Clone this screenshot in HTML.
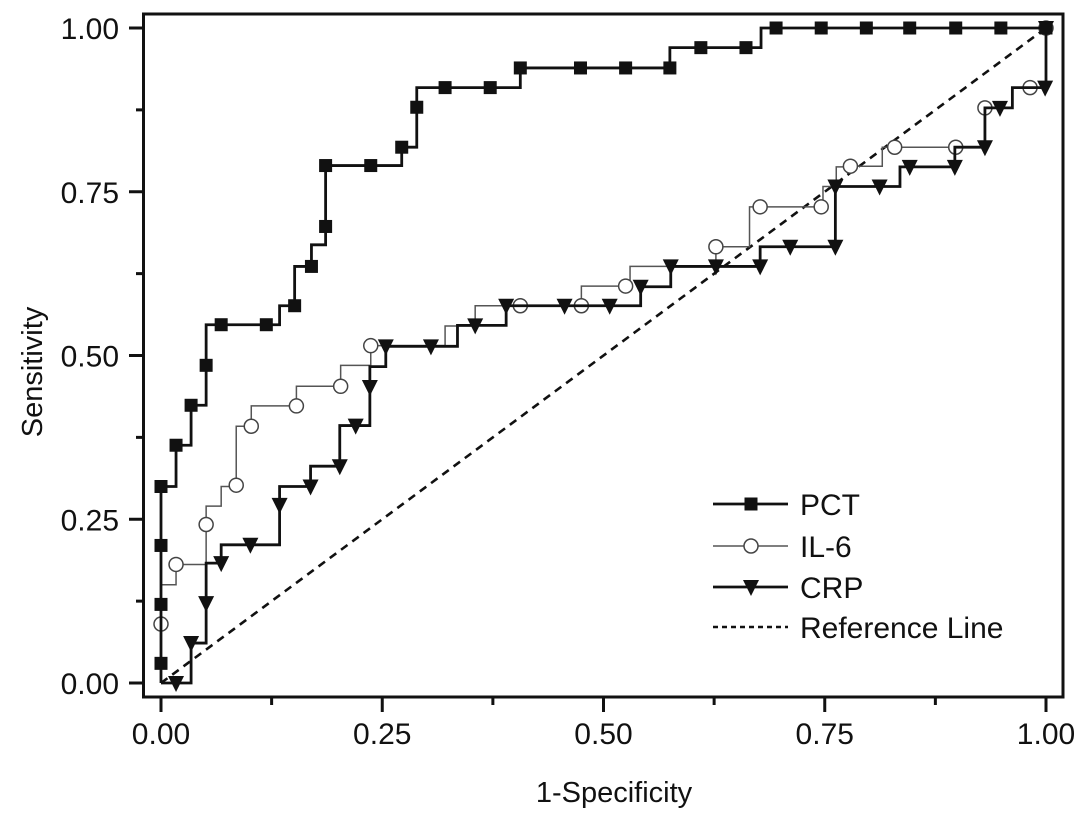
<!DOCTYPE html>
<html><head><meta charset="utf-8"><style>
html,body{margin:0;padding:0;background:#fff}
svg{display:block}
text{font-family:"Liberation Sans",Arial,sans-serif;fill:#111}
</style></head><body>
<svg id="chart" width="1087" height="820" viewBox="0 0 1087 820" xmlns="http://www.w3.org/2000/svg">
<g id="axes"></g>
<g id="series"></g>
<g id="legend"></g>
</svg>
<script>
const xTicks = [0, 0.25, 0.5, 0.75, 1];
const xTickLabels = ["0.00", "0.25", "0.50", "0.75", "1.00"];
const yTicks = [0, 0.25, 0.5, 0.75, 1];
const yTickLabels = ["0.00", "0.25", "0.50", "0.75", "1.00"];

const pctX = [0,0,0,0,0,0.017,0.034,0.051,0.051,0.068,0.119,0.134,0.151,0.151,0.17,0.17,0.186,0.186,0.237,0.272,0.289,0.289,0.321,0.372,0.406,0.474,0.525,0.575,0.575,0.61,0.661,0.678,0.695,0.746,0.797,0.846,0.898,0.949,1.0];
const pctY = [0,0.03,0.12,0.21,0.30,0.363,0.424,0.485,0.547,0.547,0.547,0.576,0.576,0.636,0.636,0.669,0.697,0.79,0.79,0.818,0.879,0.909,0.909,0.909,0.939,0.939,0.939,0.939,0.97,0.97,0.97,1,1,1,1,1,1,1,1];
const pctM = [0,1,1,1,1,1,1,1,0,1,1,0,1,0,1,0,1,1,1,1,1,0,1,1,1,1,1,1,0,1,1,0,1,1,1,1,1,1,1];

const il6X = [0,0,0,0.017,0.051,0.051,0.068,0.085,0.085,0.102,0.102,0.153,0.153,0.203,0.203,0.237,0.321,0.355,0.406,0.475,0.475,0.525,0.53,0.627,0.665,0.677,0.746,0.748,0.763,0.779,0.815,0.829,0.898,0.931,0.962,0.982,1.0];
const il6Y = [0,0.09,0.15,0.181,0.242,0.27,0.30,0.302,0.392,0.392,0.423,0.423,0.453,0.453,0.485,0.515,0.545,0.576,0.576,0.576,0.606,0.606,0.636,0.666,0.727,0.727,0.727,0.758,0.788,0.789,0.818,0.818,0.818,0.878,0.909,0.909,1];
const il6M = [0,1,0,1,1,0,0,1,0,1,0,1,0,1,0,1,0,0,1,1,0,1,0,1,0,1,1,0,0,1,0,1,1,1,0,1,1];

const crpX = [0,0.017,0.034,0.051,0.051,0.068,0.068,0.101,0.134,0.134,0.169,0.169,0.202,0.202,0.22,0.236,0.236,0.254,0.305,0.335,0.355,0.39,0.456,0.507,0.542,0.576,0.627,0.677,0.677,0.711,0.762,0.762,0.812,0.835,0.846,0.897,0.897,0.931,0.931,0.948,0.962,0.999,1.0];
const crpY = [0,0,0.061,0.122,0.183,0.183,0.211,0.211,0.272,0.30,0.30,0.331,0.331,0.393,0.393,0.452,0.483,0.514,0.514,0.546,0.546,0.576,0.576,0.576,0.605,0.636,0.636,0.636,0.666,0.666,0.666,0.758,0.758,0.788,0.788,0.788,0.818,0.818,0.878,0.878,0.909,0.909,1];
const crpM = [0,1,1,1,0,1,0,1,1,0,1,0,1,0,1,1,0,1,1,0,1,1,1,1,1,1,1,1,0,1,1,1,1,0,1,1,0,1,0,1,0,1,1];

const refX = [0, 1];
const refY = [0, 1];

const NS = "http://www.w3.org/2000/svg";
const X0 = 161, XW = 885, Y0 = 683, YH = 655;
function sx(v){ return X0 + v * XW; }
function sy(v){ return Y0 - v * YH; }
function mk(tag, attrs, parent){
  const e = document.createElementNS(NS, tag);
  for (const k in attrs) e.setAttribute(k, attrs[k]);
  parent.appendChild(e);
  return e;
}
const axes = document.getElementById('axes');
const series = document.getElementById('series');
const legend = document.getElementById('legend');

const frame = mk('rect', {x:143.5, y:14, width:919.5, height:683, fill:'none', stroke:'#111', 'stroke-width':3}, axes);



xTicks.forEach((v, i) => {
  const t = mk('line', {x1:sx(v), x2:sx(v), y1:697, y2:712, stroke:'#111', 'stroke-width':3}, axes);
  
  
  const lb = mk('text', {x:sx(v), y:744, 'font-size':30, 'text-anchor':'middle'}, axes);
  lb.textContent = xTickLabels[i];
  
  
  if (i < xTicks.length - 1) {
    const m = mk('line', {x1:sx(v + 0.125), x2:sx(v + 0.125), y1:697, y2:705, stroke:'#111', 'stroke-width':3}, axes);
    
    
  }
});
yTicks.forEach((v, i) => {
  const t = mk('line', {x1:129, x2:143.5, y1:sy(v), y2:sy(v), stroke:'#111', 'stroke-width':3}, axes);
  
  
  const lb = mk('text', {x:119, y:sy(v) + 11, 'font-size':30, 'text-anchor':'end'}, axes);
  lb.textContent = yTickLabels[i];
  
  
  if (i < yTicks.length - 1) {
    const m = mk('line', {x1:136, x2:143.5, y1:sy(v + 0.125), y2:sy(v + 0.125), stroke:'#111', 'stroke-width':3}, axes);
    
    
  }
});
const xt = mk('text', {x:614, y:802, 'font-size':29, 'text-anchor':'middle'}, axes);
xt.textContent = '1-Specificity';


const yt = mk('text', {x:0, y:0, 'font-size':29, 'text-anchor':'middle', transform:'translate(42,372) rotate(-90)'}, axes);
yt.textContent = 'Sensitivity';



const ref = mk('line', {x1:sx(refX[0]), y1:sy(refY[0]), x2:sx(refX[1]), y2:sy(refY[1]), stroke:'#111', 'stroke-width':2.6, 'stroke-dasharray':'8,6'}, series);



function stepPath(xs, ys){
  let d = 'M' + sx(xs[0]) + ',' + sy(ys[0]);
  for (let i = 1; i < xs.length; i++) {
    d += ' L' + sx(xs[i]) + ',' + sy(ys[i-1]) + ' L' + sx(xs[i]) + ',' + sy(ys[i]);
  }
  return d;
}
function marker(type, cx, cy, parent){
  let e;
  if (type === 'square') e = mk('rect', {x:cx-6.5, y:cy-6.5, width:13, height:13, fill:'#111'}, parent);
  else if (type === 'circle') e = mk('circle', {cx:cx, cy:cy, r:7, fill:'#fff', stroke:'#444', 'stroke-width':1.5}, parent);
  else e = mk('polygon', {points:(cx-8)+','+(cy-7)+' '+(cx+8)+','+(cy-7)+' '+cx+','+(cy+9), fill:'#111'}, parent);
  return e;
}
function drawSeries(name, xs, ys, ms, type, color, width){
  const g = mk('g', {}, series);
  
  
  const p = mk('path', {d:stepPath(xs, ys), fill:'none', stroke:color, 'stroke-width':width}, g);
  
  
  for (let i = 0; i < xs.length; i++) {
    if (!ms[i]) continue;
    const m = marker(type, sx(xs[i]), sy(ys[i]), g);
    
    
  }
}
drawSeries('il6', il6X, il6Y, il6M, 'circle', '#555', 1.5);
drawSeries('crp', crpX, crpY, crpM, 'triangle', '#111', 2.8);
drawSeries('pct', pctX, pctY, pctM, 'square', '#111', 2.8);

const legItems = [
  {name:'PCT', type:'square', color:'#111', w:2.8, y:504},
  {name:'IL-6', type:'circle', color:'#555', w:1.5, y:546},
  {name:'CRP', type:'triangle', color:'#111', w:2.8, y:587},
  {name:'Reference Line', type:'dash', color:'#111', w:2.6, y:627}
];
legItems.forEach(it => {
  const g = mk('g', {}, legend);
  
  
  const attrs = {x1:713, x2:788, y1:it.y, y2:it.y, stroke:it.color, 'stroke-width':it.w};
  if (it.type === 'dash') attrs['stroke-dasharray'] = '5,4';
  mk('line', attrs, g);
  if (it.type !== 'dash') marker(it.type, 751, it.y, g);
  const t = mk('text', {x:800, y:it.y + 11, 'font-size':30}, g);
  t.textContent = it.name;
});
</script>
</body></html>
